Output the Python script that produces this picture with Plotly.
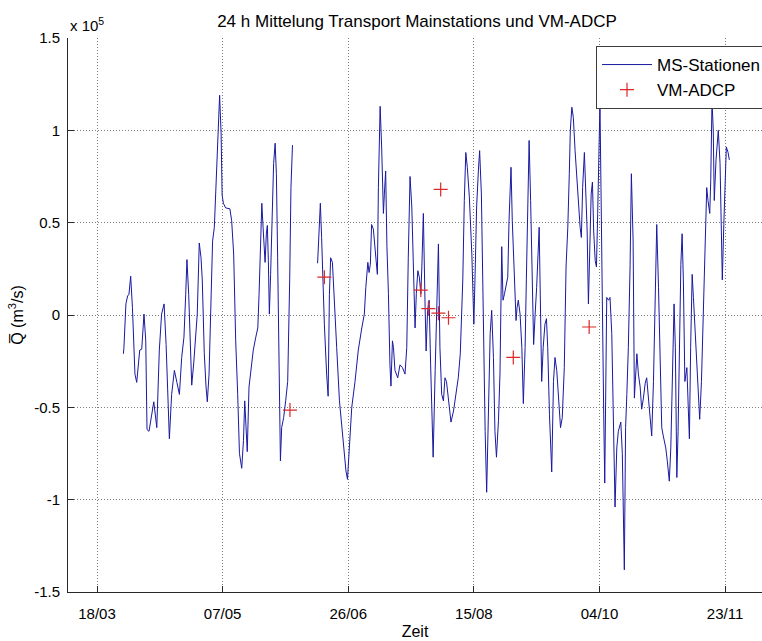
import pandas as pd
import plotly.graph_objects as go

# ---------------- data ----------------
START = "2007-03-18"   # first x tick (18/03)

# MS-Stationen: time in days after 18/03, transport Q in units of 1e5 m^3/s
ms_day = [
    10.5, 10.7, 11.5, 12.2, 12.7, 13.4, 14.1, 14.6, 15.1, 15.8, 16.5, 17.0, 17.8, 18.7, 19.4, 19.9, 20.7, 21.8, 22.6, 23.8,
    24.8, 25.7, 26.7, 27.5, 28.1, 28.8, 29.7, 30.8, 31.8, 32.8, 33.7, 34.6, 35.3, 35.8, 36.5, 37.0, 37.7, 38.5, 39.3, 39.9,
    40.7, 41.4, 41.9, 42.7, 43.4, 43.9, 44.6, 45.4, 46.0, 46.7, 47.4, 47.9, 48.6, 48.8, 49.4, 49.8, 50.3, 51.2, 52.9, 53.6,
    54.4, 55.2, 56.0, 56.7, 57.6, 58.3, 58.8, 59.4, 59.8,
    60.5, 61.3, 62.2, 63.2, 64.0, 64.5, 65.2, 65.6, 66.1, 66.9, 67.4, 67.8, 68.2, 68.6, 69.1, 69.8, 70.3, 70.9, 71.4, 71.9,
    72.5, 73.0, 73.5, 74.3, 75.1, 75.9, 76.7, 77.2, 77.8,
    82.8,
    87.8, 88.5, 88.9, 89.4, 89.8, 90.5, 91.4, 92.0, 92.5, 93.0, 93.7, 94.3, 95.4, 96.5, 97.4, 98.3, 99.1, 99.7, 100.5, 101.4,
    102.7, 104.0, 105.4, 106.4, 107.0, 107.8, 108.3, 108.8, 109.3, 110.0, 111.1, 111.6, 112.0, 112.7,
    113.3, 114.0, 114.4, 114.9, 115.4, 116.0, 116.6, 117.0, 117.6, 118.0, 118.6, 119.7, 120.6, 121.6, 122.6, 123.3, 123.9,
    124.6, 125.3, 125.9, 126.6, 127.1, 127.7, 128.3, 128.9, 129.3, 129.9, 130.6, 131.0, 131.6, 132.2, 132.8, 133.2, 133.8,
    134.6, 135.2, 135.9, 136.5, 137.2, 137.9, 138.5, 139.1, 139.9, 140.9, 141.9, 142.9, 143.8, 144.6, 145.6, 146.2, 146.8,
    147.4, 148.2, 149.2, 149.7, 150.0, 150.5, 151.1, 151.8, 152.3, 153.0, 153.5, 154.1, 154.5, 155.1, 155.8, 156.5, 157.1,
    157.8, 158.4, 159.0, 159.8, 160.4, 161.1, 161.6, 162.2,
    163.5, 164.0, 164.8, 165.3, 166.1, 166.8, 167.2, 167.7, 168.4, 169.1, 169.7, 170.4, 170.9, 171.4, 172.0, 172.6, 173.3,
    173.8, 174.4, 175.0, 176.0, 176.5, 177.0, 177.6, 178.3, 178.9, 179.4, 180.1, 180.7, 181.0, 181.7, 182.3, 183.0, 183.7,
    184.5, 185.2, 186.0, 186.7, 187.4, 188.0, 188.4, 189.0, 189.6, 190.3, 191.0, 191.6, 192.3, 192.8, 193.3, 194.0, 194.5,
    195.1, 195.6, 196.3, 196.7, 197.2, 197.7, 198.3, 198.8, 199.3, 199.8, 200.2, 200.6, 201.2, 201.7, 202.1, 202.9, 203.6,
    204.2, 204.9, 205.5, 206.2, 206.9, 207.5, 208.5, 209.1, 209.9, 210.4, 210.9, 211.5, 212.2, 212.7,
    213.4, 213.9, 214.9, 215.5, 216.2, 216.8, 217.5, 218.2, 218.8, 219.5, 220.1, 220.8, 221.5, 222.1, 222.8, 223.5, 224.1,
    224.8, 225.4, 226.4, 227.0, 227.8, 228.4, 229.0, 229.7, 230.2, 230.8, 231.3, 231.8, 232.4, 232.9, 233.4, 234.0, 234.8,
    235.4, 235.8, 236.3, 236.9, 237.4, 238.1, 238.7, 239.4, 239.9, 240.6, 241.4, 242.0, 242.7, 243.2, 243.9, 244.3, 244.8,
    245.3, 245.7, 246.4, 246.9, 247.3, 248.0, 248.5, 248.9, 249.5, 250.0, 250.5, 251.2, 251.7,
]
ms_q = [
    -0.21, -0.18, 0.06, 0.105, 0.11, 0.21, 0.04, -0.16, -0.32, -0.365, -0.23, -0.19, -0.185, 0.005, -0.14, -0.62, -0.63,
    -0.52, -0.47, -0.61, -0.19, 0.005, 0.06, -0.16, -0.465, -0.67, -0.43, -0.30, -0.365, -0.43, -0.23, -0.12, 0.11, 0.30,
    0.11, -0.085, -0.38, -0.26, -0.10, 0.005, 0.39, 0.31, 0.19, -0.21, -0.39, -0.47, -0.32, 0.10, 0.40, 0.475, 0.75, 0.91,
    1.13, 1.19, 0.98, 0.65, 0.605, 0.58, 0.575, 0.51, 0.33, -0.14, -0.43, -0.75, -0.83, -0.68, -0.465, -0.61, -0.74,
    -0.39, -0.28, -0.19, -0.12, -0.07, 0.11, 0.475, 0.605, 0.475, 0.285, 0.44, 0.485, 0.295, 0.005, 0.22, 0.51, 0.82, 0.93,
    0.765, 0.31, -0.36, -0.79, -0.61, -0.555, -0.465, -0.36, 0.19, 0.69, 0.92,
    None,
    0.28, 0.49, 0.605, 0.42, 0.19, -0.05, -0.32, -0.44, 0.11, 0.31, 0.285, 0.095, -0.175, -0.465, -0.61, -0.75, -0.845,
    -0.89, -0.70, -0.50, -0.36, -0.19, -0.07, 0.005, 0.15, 0.285, 0.23, 0.275, 0.49, 0.465, 0.295, 0.22, 0.69, 1.13,
    0.91, 0.55, 0.66, 0.78, 0.37, 0.115, -0.27, -0.385, -0.14, -0.175, -0.30, -0.34, -0.27, -0.285, -0.32, -0.175, 0.31,
    0.75, 0.585, 0.26, -0.07, 0.115, 0.24, 0.205, 0.115, 0.26, 0.55, 0.04, -0.195, 0.025, 0.08, -0.27, -0.54, -0.77, -0.30,
    0.005, 0.385, -0.175, -0.43, -0.465, -0.34, -0.36, -0.465, -0.58, -0.52, -0.43, -0.34, -0.21, 0.19, 0.62, 0.88, 0.80,
    0.64, 0.33, 0.04, -0.05, 0.22, 0.585, 0.78, 0.89, 0.655, 0.19, -0.27, -0.63, -0.96, -0.54, -0.10, 0.025, -0.23, -0.63,
    -0.77, -0.57, -0.32, 0.37, 0.08, 0.115,
    0.205, 0.51, 0.80, 0.51, 0.15, -0.03, 0.04, 0.08, 0.005, -0.175, -0.48, -0.175, 0.19, 0.585, 0.945, 0.62, 0.15, -0.16,
    0.005, 0.15, 0.475, 0.095, -0.36, -0.175, -0.05, -0.02, -0.175, -0.54, -0.77, -0.85, -0.36, -0.23, -0.30, -0.465, -0.61,
    -0.555, -0.285, 0.26, 0.475, 0.765, 1.0, 1.125, 1.07, 0.89, 0.73, 0.64, 0.475, 0.42, 0.69, 0.88, 0.64, 0.455, 0.06,
    0.455, 0.655, 0.72, 0.455, 0.295, 0.26, 0.55, 1.04, 1.15, 0.69, -0.175, -0.54, -0.91, 0.095, 0.08, 0.095, -0.10, -0.54,
    -1.04, -0.72, -0.63, -0.58, -0.75, -1.38, -0.61, -0.43, -0.175, 0.275, 0.765,
    0.40, -0.45, -0.21, -0.32, -0.39, -0.51, -0.45, -0.37, -0.34, -0.45, -0.57, -0.655, -0.36, 0.115, 0.49, 0.15, -0.175,
    -0.61, -0.655, -0.72, -0.79, -0.90, -0.72, -0.36, 0.06, -0.175, -0.88, -0.63, -0.175, 0.275, 0.44, 0.19, -0.36, -0.285,
    -0.52, -0.67, -0.175, 0.22, 0.095, -0.085, -0.265, -0.465, -0.565, -0.36, 0.005, 0.40, 0.69, 0.62, 0.55, 0.73, 1.16,
    1.0, 0.62, 0.84, 0.93, 1.0, 0.82, 0.42, 0.19, 0.49, 0.73, 0.91, 0.88, 0.84,
]

# VM-ADCP measurements
adcp_day = [76.8, 90.5, 128.9, 131.9, 135.9, 136.8, 139.9, 165.7, 195.9]
adcp_q = [-0.515, 0.205, 0.135, 0.035, 0.01, 0.68, -0.015, -0.23, -0.065]

x_range_days = [-11.55, 264.7]
tick_step_days = 50
y_ticks = [-1.5, -1, -0.5, 0, 0.5, 1, 1.5]
y_ticktext = ["-1.5", "-1", "-0.5", "0", "0.5", "1", "1.5"]

assert len(ms_day) == len(ms_q)
assert len(adcp_day) == len(adcp_q)

# ---------------- figure ----------------
t0 = pd.Timestamp(START)
ms_t = t0 + pd.to_timedelta(ms_day, unit="D")
adcp_t = t0 + pd.to_timedelta(adcp_day, unit="D")
xr = [t0 + pd.Timedelta(days=d) for d in x_range_days]

FONT = "Liberation Sans, Arial, Helvetica, sans-serif"
GRID = "rgb(125,125,125)"
AX = "rgb(40,40,40)"
GRIDDASH = "1px,2px"

fig = go.Figure()
fig.add_trace(go.Scatter(
    x=ms_t, y=ms_q, mode="lines", name="MS-Stationen",
    line=dict(color="rgb(25,25,160)", width=1), connectgaps=False,
))
fig.add_trace(go.Scatter(
    x=adcp_t, y=adcp_q, mode="markers", name="VM-ADCP",
    marker=dict(symbol="cross-thin", size=10, line=dict(color="rgb(220,40,40)", width=1.2),
                color="rgb(220,40,40)"),
))

fig.update_layout(
    width=762, height=641,
    margin=dict(l=68, r=0, t=38, b=49, autoexpand=False),
    paper_bgcolor="white", plot_bgcolor="white",
    font=dict(family=FONT, size=15, color="black"),
    title=dict(text="24 h Mittelung Transport Mainstations und VM-ADCP",
               x=417 / 762, xanchor="center",
               y=1 - 21 / 641, yanchor="middle", yref="container",
               font=dict(size=17, family=FONT, color="black")),
    showlegend=True,
    legend=dict(x=(596 - 68) / 694, y=1 - (46 - 38) / 554, xanchor="left", yanchor="top",
                bgcolor="white", bordercolor="rgb(60,60,60)", borderwidth=1,
                font=dict(size=17, family=FONT, color="black"),
                itemwidth=50, tracegroupgap=0),
)

fig.update_xaxes(
    type="date", range=xr,
    tick0=t0, dtick=tick_step_days * 86400000, tickformat="%d/%m",
    showgrid=True, gridcolor=GRID, griddash=GRIDDASH, gridwidth=1,
    showline=True, linecolor=AX, linewidth=1,
    ticks="inside", ticklen=6, tickcolor=AX,
    ticklabelstandoff=8,
    zeroline=False,
    title=dict(text="Zeit", font=dict(size=16, family=FONT), standoff=4),
)
fig.update_yaxes(
    range=[-1.5, 1.5], tickvals=y_ticks, ticktext=y_ticktext,
    showgrid=True, gridcolor=GRID, griddash=GRIDDASH, gridwidth=1,
    showline=True, linecolor=AX, linewidth=1,
    ticks="inside", ticklen=6, tickcolor=AX,
    ticklabelstandoff=4,
    zeroline=False,
    title=dict(text="Q\u0305 (m<sup>3</sup>/s)", font=dict(size=16, family=FONT), standoff=6),
)

fig.add_annotation(
    text="x 10<sup>5</sup>", xref="paper", yref="paper", x=0, y=1 + (38 - 24) / 554,
    xanchor="left", yanchor="middle", showarrow=False,
    font=dict(size=15, family=FONT, color="black"),
)

fig.write_html("out.html")
